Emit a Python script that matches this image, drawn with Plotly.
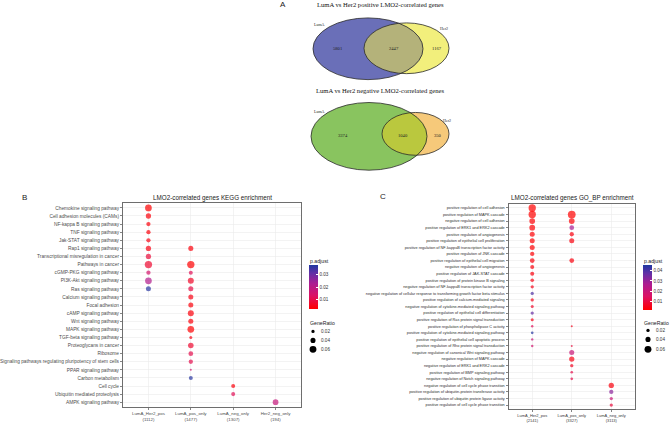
import numpy as np
import plotly.graph_objects as go

W, H = 670, 423
SANS = "Liberation Sans, Arial, sans-serif"
SERIF = "Liberation Serif, Times New Roman, serif"

# ---------------- Panel A: Venn data ----------------
venn_sets = ["LumA", "Her2"]
venn_titles = ["LumA vs Her2 positive LMO2-correlated genes",
               "LumA vs Her2 negative LMO2-correlated genes"]
venn_pos_counts = [5801, 2447, 1167]   # LumA only, both, Her2 only
venn_neg_counts = [3374, 1040, 350]

# ---------------- Panel B: KEGG ----------------
kegg_terms = [
    "Chemokine signaling pathway", "Cell adhesion molecules (CAMs)",
    "NF-kappa B signaling pathway", "TNF signaling pathway",
    "Jak-STAT signaling pathway", "Rap1 signaling pathway",
    "Transcriptional misregulation in cancer", "Pathways in cancer",
    "cGMP-PKG signaling pathway", "PI3K-Akt signaling pathway",
    "Ras signaling pathway", "Calcium signaling pathway", "Focal adhesion",
    "cAMP signaling pathway", "Wnt signaling pathway", "MAPK signaling pathway",
    "TGF-beta signaling pathway", "Proteoglycans in cancer", "Ribosome",
    "Signaling pathways regulating pluripotency of stem cells",
    "PPAR signaling pathway", "Carbon metabolism", "Cell cycle",
    "Ubiquitin mediated proteolysis", "AMPK signaling pathway",
]
kegg_groups = ["LumA_Her2_pos<br>(1112)", "LumA_pos_only<br>(1477)",
               "LumA_neg_only<br>(1307)", "Her2_neg_only<br>(194)"]
N = None
kegg_ratio_lumA_her2_pos = [0.058, 0.042, 0.031, 0.031, 0.031, 0.042, 0.042, 0.065, 0.031, 0.058, 0.039,
                            N, N, N, N, N, N, N, N, N, N, N, N, N, N]
kegg_padj_lumA_her2_pos = [0.003, 0.004, 0.004, 0.004, 0.005, 0.005, 0.009, 0.008, 0.015, 0.022, 0.037,
                           N, N, N, N, N, N, N, N, N, N, N, N, N, N]
kegg_ratio_lumA_pos_only = [N, N, N, N, N, 0.039, N, 0.065, 0.028, 0.050, 0.039, 0.039, 0.039, 0.050,
                            0.039, 0.058, 0.017, 0.045, 0.036, 0.031, 0.006, 0.028, N, N, N]
kegg_padj_lumA_pos_only = [N, N, N, N, N, 0.004, N, 0.003, 0.012, 0.007, 0.010, 0.005, 0.004, 0.004,
                           0.004, 0.003, 0.005, 0.008, 0.011, 0.011, 0.016, 0.037, N, N, N]
kegg_ratio_lumA_neg_only = [N] * 22 + [0.028, 0.028, N]
kegg_padj_lumA_neg_only = [N] * 22 + [0.004, 0.012, N]
kegg_ratio_her2_neg_only = [N] * 24 + [0.047]
kegg_padj_her2_neg_only = [N] * 24 + [0.018]
kegg_ratios = [kegg_ratio_lumA_her2_pos, kegg_ratio_lumA_pos_only, kegg_ratio_lumA_neg_only, kegg_ratio_her2_neg_only]
kegg_padjs = [kegg_padj_lumA_her2_pos, kegg_padj_lumA_pos_only, kegg_padj_lumA_neg_only, kegg_padj_her2_neg_only]
kegg_padj_ticks = [0.01, 0.02, 0.03]

# ---------------- Panel C: GO BP ----------------
go_terms = [
    "positive regulation of cell adhesion", "positive regulation of MAPK cascade",
    "negative regulation of cell adhesion", "positive regulation of ERK1 and ERK2 cascade",
    "positive regulation of angiogenesis", "positive regulation of epithelial cell proliferation",
    "positive regulation of NF-kappaB transcription factor activity", "positive regulation of JNK cascade",
    "positive regulation of epithelial cell migration", "negative regulation of angiogenesis",
    "positive regulation of JAK-STAT cascade", "positive regulation of protein kinase B signaling",
    "negative regulation of NF-kappaB transcription factor activity",
    "negative regulation of cellular response to transforming growth factor beta stimulus",
    "positive regulation of calcium-mediated signaling", "negative regulation of cytokine-mediated signaling pathway",
    "positive regulation of epithelial cell differentiation", "positive regulation of Ras protein signal transduction",
    "positive regulation of phospholipase C activity", "positive regulation of cytokine-mediated signaling pathway",
    "positive regulation of epithelial cell apoptotic process", "positive regulation of Rho protein signal transduction",
    "negative regulation of canonical Wnt signaling pathway", "negative regulation of MAPK cascade",
    "negative regulation of ERK1 and ERK2 cascade", "positive regulation of BMP signaling pathway",
    "negative regulation of Notch signaling pathway", "negative regulation of cell cycle phase transition",
    "positive regulation of ubiquitin-protein transferase activity",
    "positive regulation of ubiquitin protein ligase activity", "positive regulation of cell cycle phase transition",
]
go_groups = ["LumA_Her2_pos<br>(2141)", "LumA_pos_only<br>(3327)", "LumA_neg_only<br>(3113)"]
go_ratio_lumA_her2_pos = [0.065, 0.065, 0.047, 0.047, 0.039, 0.039, 0.039, 0.031, 0.036, 0.028, 0.028,
                          0.024, 0.020, 0.020, 0.020, 0.017, 0.020, 0.017, 0.010, 0.013, 0.010, 0.010] + [N] * 9
go_padj_lumA_her2_pos = [0.002, 0.002, 0.003, 0.003, 0.003, 0.003, 0.003, 0.003, 0.004, 0.004, 0.004,
                         0.005, 0.006, 0.040, 0.006, 0.008, 0.037, 0.006, 0.014, 0.045, 0.020, 0.018] + [N] * 9
go_ratio_lumA_pos_only = [N, 0.070, 0.047, 0.036, 0.031, 0.039, N, N, 0.036, N, N, N, N, N, N, N, N, N,
                          0.006, N, N, 0.005, 0.039, 0.042, 0.020, 0.013, 0.013, N, N, N, N]
go_padj_lumA_pos_only = [N, 0.002, 0.003, 0.028, 0.004, 0.004, N, N, 0.004, N, N, N, N, N, N, N, N, N,
                         0.006, N, N, 0.010, 0.020, 0.005, 0.007, 0.012, 0.012, N, N, N, N]
go_ratio_lumA_neg_only = [N] * 27 + [0.042, 0.031, 0.020, 0.020]
go_padj_lumA_neg_only = [N] * 27 + [0.004, 0.032, 0.020, 0.010]
go_ratios = [go_ratio_lumA_her2_pos, go_ratio_lumA_pos_only, go_ratio_lumA_neg_only]
go_padjs = [go_padj_lumA_her2_pos, go_padj_lumA_pos_only, go_padj_lumA_neg_only]
go_padj_ticks = [0.01, 0.02, 0.03, 0.04]

legend_ratios = [0.02, 0.04, 0.06]

COLORSCALE = [[0.0, "#FF0000"], [0.3, "#DC1264"], [0.58, "#AC1C92"], [0.82, "#6030A6"], [1.0, "#2038A0"]]


def dot_size(r):
    return 1.5 + 90 * r


def pxx(x):
    return x / W


def pxy(y):
    return 1 - y / H


fig = go.Figure()
annotations = []
shapes = []


def txt(x, y, s, size, family=SANS, color="#1a1a1a", xanchor="center", yanchor="middle"):
    annotations.append(dict(x=pxx(x), y=pxy(y), xref="paper", yref="paper", text=s, showarrow=False,
                            font=dict(size=size, family=family, color=color),
                            xanchor=xanchor, yanchor=yanchor, borderpad=0))


# ---------------- Venn drawing ----------------
def ellipse_pts(cx, cy, rx, ry, n=720):
    t = np.linspace(0, 2 * np.pi, n, endpoint=False)
    return cx + rx * np.cos(t), cy + ry * np.sin(t)


def inside(x, y, e):
    cx, cy, rx, ry = e
    return ((x - cx) / rx) ** 2 + ((y - cy) / ry) ** 2 <= 1


def lens_path(e1, e2):
    x1, y1 = ellipse_pts(*e1)
    x2, y2 = ellipse_pts(*e2)
    m1 = inside(x1, y1, e2)
    m2 = inside(x2, y2, e1)
    xs = np.concatenate([x1[m1], x2[m2]])
    ys = np.concatenate([y1[m1], y2[m2]])
    cx, cy = xs.mean(), ys.mean()
    order = np.argsort(np.arctan2(ys - cy, xs - cx))
    xs, ys = xs[order], ys[order]
    pts = [f"{pxx(a):.5f},{pxy(b):.5f}" for a, b in zip(xs, ys)]
    return "M " + " L ".join(pts) + " Z"


def ellipse_shape(e, fill, line=True):
    cx, cy, rx, ry = e
    return dict(type="circle", xref="paper", yref="paper",
                x0=pxx(cx - rx), x1=pxx(cx + rx), y0=pxy(cy + ry), y1=pxy(cy - ry),
                fillcolor=fill, line=dict(color="#2a2a2a", width=0.8) if line else dict(width=0))


def draw_venn(e_left, e_right, c_left, c_right, c_mid, counts, title, title_y, label_pos, num_y, num_x):
    shapes.append(ellipse_shape(e_right, c_right, line=False))
    shapes.append(ellipse_shape(e_left, c_left, line=False))
    shapes.append(dict(type="path", xref="paper", yref="paper", path=lens_path(e_left, e_right),
                       fillcolor=c_mid, line=dict(width=0)))
    shapes.append(ellipse_shape(e_left, "rgba(0,0,0,0)"))
    shapes.append(ellipse_shape(e_right, "rgba(0,0,0,0)"))
    txt(380, title_y, title, 6.6, family=SERIF, color="#111")
    for (lx, ly), name in zip(label_pos, venn_sets):
        txt(lx, ly, name, 4.0, family=SERIF, color="#222")
    for x, c in zip(num_x, counts):
        txt(x, num_y, str(c), 4.6, family=SERIF, color="#222")


e1_left = (368, 49, 55, 31)
e1_right = (406.5, 48.5, 42.5, 25.5)
draw_venn(e1_left, e1_right, "#6A6FB8", "#F2EF7C", "#B4B27A", venn_pos_counts, venn_titles[0], 5,
          [(319, 25), (444, 29)], 49, [338, 394, 437])

e2_left = (369, 137, 58, 34)
e2_right = (415.5, 134.5, 33.5, 21.5)
draw_venn(e2_left, e2_right, "#89C45F", "#F6C97A", "#BAC83E", venn_neg_counts, venn_titles[1], 91,
          [(319, 112), (447, 121)], 136, [343, 403, 438])

txt(283, 5, "A", 8, color="#222")
txt(25, 198, "B", 8, color="#222")
txt(383, 197, "C", 8, color="#222")


# ---------------- Dot plots ----------------
def build_points(groups, terms, ratios, padjs):
    xs, ys, ss, cs = [], [], [], []
    for g, rl, pl in zip(groups, ratios, padjs):
        for t, r, p in zip(terms, rl, pl):
            if r is None:
                continue
            xs.append(g)
            ys.append(t)
            ss.append(dot_size(r))
            cs.append(p)
    return xs, ys, ss, cs


def add_panel(groups, terms, ratios, padjs, xa, ya, cmin, cmax, ticks, cb_x, cb_ytop, cb_ybot):
    xs, ys, ss, cs = build_points(groups, terms, ratios, padjs)
    fig.add_trace(go.Scatter(
        x=xs, y=ys, mode="markers", xaxis=xa, yaxis=ya, showlegend=False, hoverinfo="skip",
        marker=dict(size=ss, color=cs, colorscale=COLORSCALE, cmin=cmin, cmax=cmax, line=dict(width=0),
                    showscale=True,
                    colorbar=dict(x=pxx(cb_x), xanchor="left", xref="paper",
                                  y=pxy((cb_ytop + cb_ybot) / 2), yanchor="middle", yref="paper",
                                  len=(cb_ybot - cb_ytop) / H, lenmode="fraction",
                                  thickness=9, thicknessmode="pixels", xpad=0, ypad=0,
                                  outlinewidth=0, ticks="inside", ticklen=2, tickcolor="white",
                                  tickvals=ticks, ticktext=[f"{t:.2f}" for t in ticks],
                                  tickfont=dict(size=4.6, family=SANS, color="#333")))))


add_panel(kegg_groups, kegg_terms, kegg_ratios, kegg_padjs, "x", "y", 0.0028, 0.038, kegg_padj_ticks,
          309, 266, 310)
add_panel(go_groups, go_terms, go_ratios, go_padjs, "x2", "y2", 0.0022, 0.0458, go_padj_ticks,
          643, 266, 311)

axis_common = dict(showline=True, mirror=True, linecolor="#6e6e6e", linewidth=1,
                   showgrid=True, gridcolor="#EBEBEB", gridwidth=0.6, zeroline=False,
                   ticks="outside", ticklen=2, tickwidth=0.6, tickcolor="#333",
                   type="category", categoryorder="array", fixedrange=True)

fig.update_layout(
    xaxis=dict(axis_common, domain=[pxx(123), pxx(301)], anchor="y", categoryarray=kegg_groups,
               range=[-0.6, len(kegg_groups) - 0.4], tickfont=dict(size=4.4, family=SANS, color="#4D4D4D")),
    yaxis=dict(axis_common, domain=[pxy(409), pxy(204)], anchor="x", categoryarray=kegg_terms,
               range=[len(kegg_terms) - 0.4, -0.6], tickfont=dict(size=4.8, family=SANS, color="#4D4D4D")),
    xaxis2=dict(axis_common, domain=[pxx(508.5), pxx(635)], anchor="y2", categoryarray=go_groups,
                range=[-0.6, len(go_groups) - 0.4], tickfont=dict(size=4.0, family=SANS, color="#3a3a3a")),
    yaxis2=dict(axis_common, domain=[pxy(411), pxy(205)], anchor="x2", categoryarray=go_terms,
                range=[len(go_terms) - 0.4, -0.6], tickfont=dict(size=3.8, family=SANS, color="#2e2e2e")),
)

# titles
txt(212, 199, "LMO2-correlated genes KEGG enrichment", 6.3, color="#1a1a1a")
txt(572, 199, "LMO2-correlated genes GO_BP enrichment", 6.3, color="#1a1a1a")


# legends (p.adjust title, GeneRatio size key)
def size_legend(x_dot, x_lab, title_x, title_y, ys):
    txt(title_x, title_y, "GeneRatio", 5.2, xanchor="left", color="#222")
    for r, y in zip(legend_ratios, ys):
        d = dot_size(r)
        shapes.append(dict(type="circle", xref="paper", yref="paper",
                           x0=pxx(x_dot - d / 2), x1=pxx(x_dot + d / 2),
                           y0=pxy(y + d / 2), y1=pxy(y - d / 2),
                           fillcolor="black", line=dict(width=0)))
        txt(x_lab, y, f"{r:.2f}", 4.6, xanchor="left", color="#333")


txt(309, 262, "p.adjust", 5.2, xanchor="left", color="#222")
size_legend(313, 320, 309, 325, [333, 342, 351])
txt(643, 262, "p.adjust", 5.2, xanchor="left", color="#222")
size_legend(648, 655, 643, 325, [332, 341, 351])

fig.update_layout(
    width=W, height=H, autosize=False,
    margin=dict(l=0, r=0, t=0, b=0, pad=0),
    paper_bgcolor="white", plot_bgcolor="white",
    font=dict(family=SANS, color="#333"),
    annotations=annotations, shapes=shapes, showlegend=False,
)

fig.write_html("out.html", config={"displayModeBar": False, "staticPlot": True},
               post_script="document.body.style.margin='0';document.body.style.overflow='hidden';")
